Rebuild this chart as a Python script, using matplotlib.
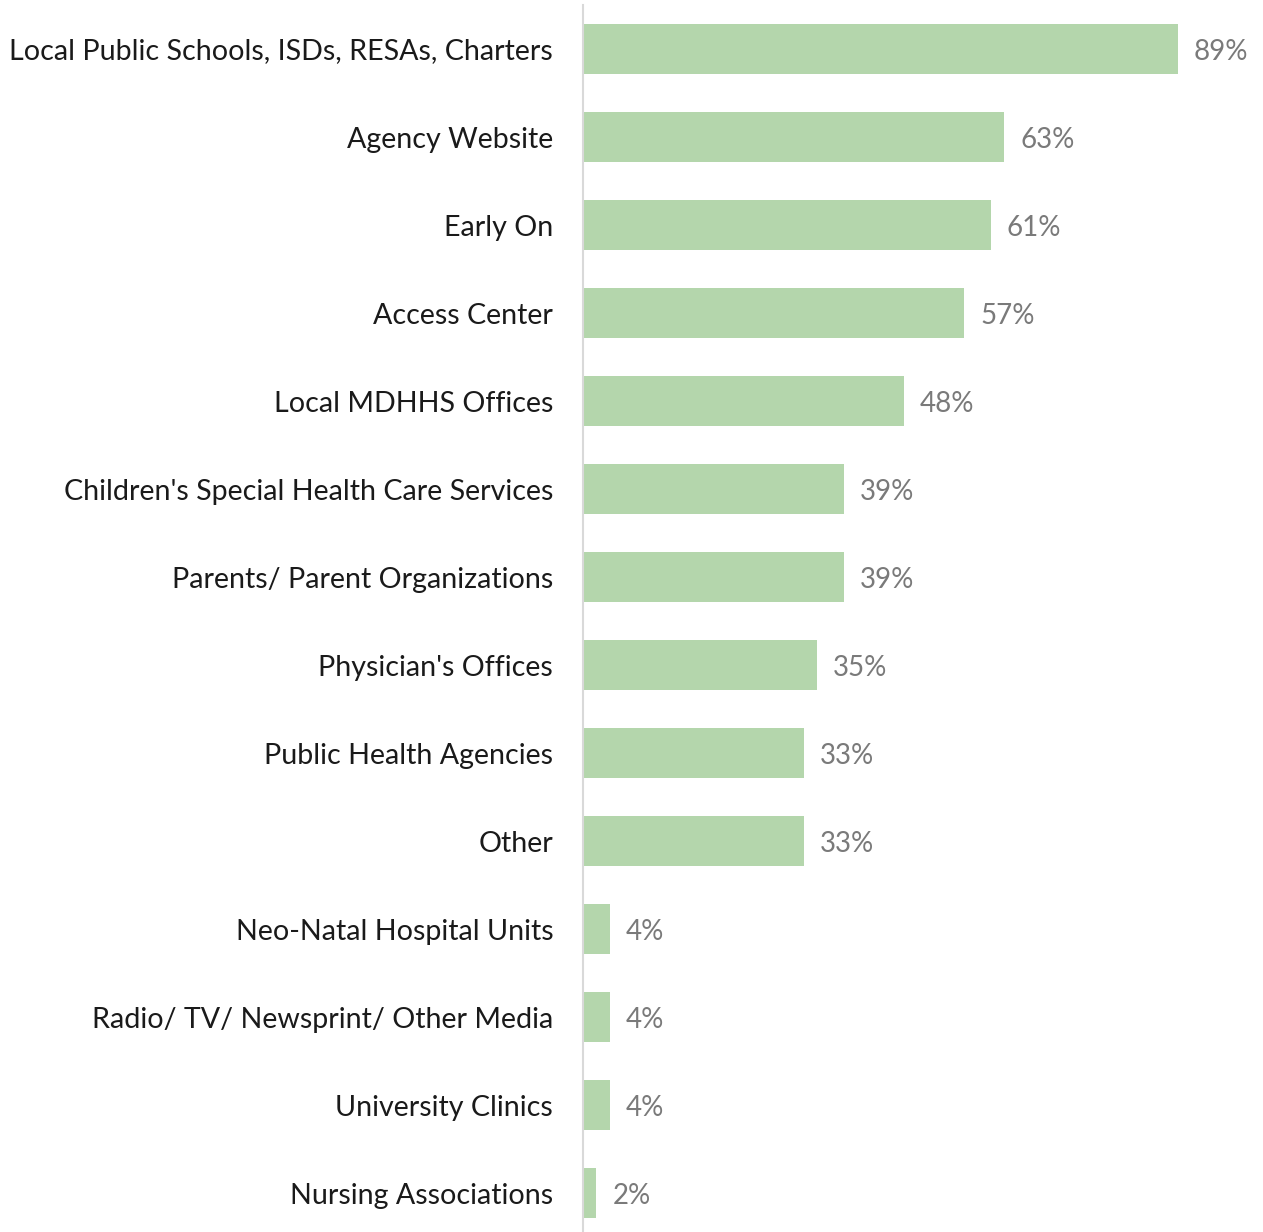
import matplotlib.pyplot as plt

categories = [
    "Local Public Schools, ISDs, RESAs, Charters",
    "Agency Website",
    "Early On",
    "Access Center",
    "Local MDHHS Offices",
    "Children's Special Health Care Services",
    "Parents/ Parent Organizations",
    "Physician's Offices",
    "Public Health Agencies",
    "Other",
    "Neo-Natal Hospital Units",
    "Radio/ TV/ Newsprint/ Other Media",
    "University Clinics",
    "Nursing Associations",
]
values = [89, 63, 61, 57, 48, 39, 39, 35, 33, 33, 4, 4, 4, 2]

plt.rcParams['font.family'] = ['Lato', 'DejaVu Sans']

fig = plt.figure(figsize=(12.63, 12.32), dpi=100)
ax = fig.add_axes([583 / 1263, 0, 680 / 1263, 1])

pos = list(range(len(categories)))
ax.barh(pos, values, height=0.57, color='#b4d6ac')
for p, v in zip(pos, values):
    ax.text(v + 2.4, p + 0.03, f"{v}%", va='center', ha='left', fontsize=20, color='#7a7a7a')

ax.set_xlim(0, 680 / 6.685)
ax.set_ylim(13.44, -0.557)
ax.set_yticks(pos)
ax.set_yticklabels(categories, fontsize=20.6, color='#1a1a1a')
ax.tick_params(axis='y', length=0, pad=21.5)
ax.set_xticks([])
for s in ['top', 'right', 'bottom']:
    ax.spines[s].set_visible(False)
ax.spines['left'].set_color('#d9d9d9')
ax.spines['left'].set_linewidth(1.5)
ax.spines['left'].set_bounds(13.44, -0.5)

fig.savefig('out.png', dpi=100)
